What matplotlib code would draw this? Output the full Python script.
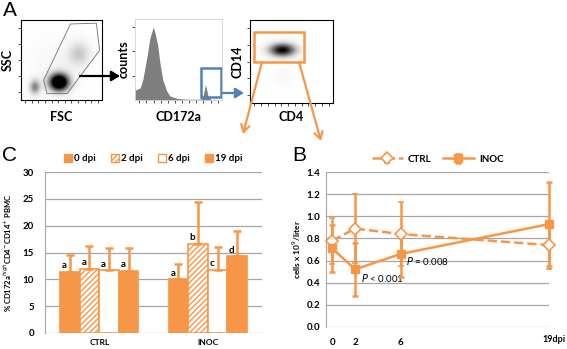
import matplotlib
matplotlib.use('Agg')
import matplotlib.pyplot as plt
import numpy as np
from matplotlib.patches import Polygon, Rectangle, FancyArrowPatch, Patch

W, H = 567, 349
ORANGE = '#F79646'
GRID = '#A6A6A6'
BLUE = '#4F81BD'

# ---- panel C data (% CD172a-high CD4- CD14+ PBMC) ----
groups = ['CTRL', 'INOC']
days_c = ['0 dpi', '2 dpi', '6 dpi', '19 dpi']
ctrl_pct = [11.4, 12.0, 11.7, 11.6]
ctrl_err = [3.1, 4.2, 4.2, 4.2]
inoc_pct = [10.0, 16.6, 11.8, 14.3]
inoc_err = [2.8, 7.8, 4.2, 4.7]
ctrl_letters = ['a', 'a', 'a', 'a']
inoc_letters = ['a', 'b', 'c', 'd']

# ---- panel B data (cells x 10^9/liter) ----
days_b = [0, 2, 6, 19]
day_labels = ['0', '2', '6', '']
ctrl_cells = [0.78, 0.89, 0.84, 0.74]
ctrl_cells_err = [0.21, 0.31, 0.29, 0.22]
inoc_cells = [0.71, 0.52, 0.66, 0.93]
inoc_cells_err = [0.21, 0.24, 0.21, 0.38]

# ---- panel A, schematic flow cytometry ----
# blobs: (x, y, sx, sy, weight) in axes fraction
fsc_ssc_blobs = [(0.47, 0.22, 0.09, 0.08, 1.4), (0.72, 0.58, 0.10, 0.11, 0.30),
                 (0.17, 0.16, 0.05, 0.07, 0.55), (0.45, 0.45, 0.25, 0.22, 0.07)]
cd4_cd14_blobs = [(0.39, 0.64, 0.12, 0.06, 1.0), (0.40, 0.32, 0.08, 0.10, 0.06)]
gate_x = [0.61, 0.93, 0.97, 0.57, 0.32, 0.28]
gate_y = [0.95, 0.96, 0.62, 0.08, 0.08, 0.25]
hist_x = [0.0, 0.06, 0.09, 0.14, 0.17, 0.21, 0.23, 0.26, 0.29, 0.32, 0.36, 0.40,
          0.48, 0.60, 0.75, 0.78, 0.81, 0.84, 0.87, 0.90, 1.0]
hist_y = [0.12, 0.15, 0.25, 0.55, 0.76, 0.90, 0.83, 0.68, 0.43, 0.25, 0.12, 0.05,
          0.02, 0.01, 0.01, 0.04, 0.19, 0.05, 0.01, 0.0, 0.0]

plt.rcParams['font.family'] = ['Lato', 'DejaVu Sans']
fig = plt.figure(figsize=(W / 100, H / 100), dpi=100)


def ax_px(x0, y0, x1, y1):
    return fig.add_axes([x0 / W, 1 - y1 / H, (x1 - x0) / W, (y1 - y0) / H])


def density(ax, blobs):
    gx, gy = np.meshgrid(np.linspace(0, 1, 160), np.linspace(0, 1, 160))
    z = np.zeros_like(gx)
    for cx, cy, sx, sy, w in blobs:
        z += w * np.exp(-((gx - cx) ** 2 / (2 * sx ** 2) + (gy - cy) ** 2 / (2 * sy ** 2)))
    ax.imshow(z, cmap='Greys', origin='lower', extent=(0, 1, 0, 1), vmin=0, vmax=1.0,
              aspect='auto', interpolation='bilinear')


def flow_frame(ax):
    ax.set_xlim(0, 1)
    ax.set_ylim(0, 1)
    ax.set_xticks(np.linspace(0.05, 0.95, 12))
    ax.set_yticks(np.linspace(0.1, 0.9, 5))
    ax.tick_params(length=2, width=0.5, labelbottom=False, labelleft=False)
    for s in ax.spines.values():
        s.set_linewidth(0.8)


# FSC / SSC
a1 = ax_px(21, 20, 102, 100)
density(a1, fsc_ssc_blobs)
a1.add_patch(Polygon(np.column_stack([gate_x, gate_y]), closed=True, fill=False,
                     ec='#707070', lw=0.6))
flow_frame(a1)
a1.set_xlabel('FSC', fontsize=9, fontweight='bold', labelpad=6)
a1.set_ylabel('SSC', fontsize=9, fontweight='bold', labelpad=3)

# CD172a histogram
a2 = ax_px(135, 19, 222, 100)
a2.fill_between(hist_x, hist_y, color='#7F7F7F', lw=0)
a2.set_xlim(0, 1)
a2.set_ylim(0, 1)
a2.set_xticks(np.linspace(0.05, 0.95, 12))
a2.set_yticks([0.3, 0.6, 0.9])
a2.tick_params(length=2, width=0.5, labelbottom=False, labelleft=False)
for s in a2.spines.values():
    s.set_linewidth(0.6)
    s.set_color('#D0D0D0')
a2.set_xlabel('CD172a', fontsize=9, fontweight='bold', labelpad=6)
a2.set_ylabel('counts', fontsize=9, fontweight='bold', labelpad=2)
a2.add_patch(Rectangle((0.76, 0.04), 0.23, 0.36, fill=False, ec=BLUE, lw=1.8,
                       transform=a2.transAxes, clip_on=False))

# CD4 / CD14
a3 = ax_px(250, 20, 333, 103)
density(a3, cd4_cd14_blobs)
flow_frame(a3)
a3.set_xlabel('CD4', fontsize=9, fontweight='bold', labelpad=4)
a3.set_ylabel('CD14', fontsize=9, fontweight='bold', labelpad=3)
a3.add_patch(Rectangle((0.05, 0.5), 0.6, 0.36, fill=False, ec=ORANGE, lw=1.8,
                       transform=a3.transAxes, clip_on=False))

# ---- panel C ----
ac = ax_px(45, 172, 262, 333)
xg = np.arange(len(groups))
bw = 0.18
styles = [dict(color=ORANGE, ec=ORANGE),
          dict(color='white', ec=ORANGE, hatch='//////'),
          dict(color='white', ec=ORANGE),
          dict(color=ORANGE, ec=ORANGE)]
vals = np.array([ctrl_pct, inoc_pct])
errs = np.array([ctrl_err, inoc_err])
letters = [ctrl_letters, inoc_letters]
for j, lab in enumerate(days_c):
    pos = xg + (j - 1.5) * bw
    ac.bar(pos, vals[:, j], bw, lw=1.2, label=lab, zorder=3, **styles[j])
    ac.errorbar(pos, vals[:, j], yerr=[np.zeros(2), errs[:, j]], fmt='none',
                ecolor=ORANGE, elinewidth=1.8, capsize=3, capthick=1.8, zorder=4)
    for g in range(len(groups)):
        ac.text(pos[g] - bw * 0.28, vals[g, j] + 0.3, letters[g][j], ha='center',
                va='bottom', fontsize=7, fontweight='bold', zorder=5)
ac.set_xlim(-0.5, 1.5)
ac.set_ylim(0, 30)
ac.set_yticks(range(0, 31, 5))
ac.set_xticks(xg)
ac.set_xticklabels(groups)
ac.yaxis.grid(True, color=GRID, lw=0.9)
ac.set_axisbelow(True)
for s in ['top', 'right', 'bottom']:
    ac.spines[s].set_visible(False)
ac.spines['left'].set_color(GRID)
ac.tick_params(axis='y', length=0, labelsize=7, pad=8)
ac.tick_params(axis='x', length=0, labelsize=6, pad=4)
for t in ac.get_yticklabels() + ac.get_xticklabels():
    t.set_fontweight('bold')
ac.set_ylabel('% CD172a$^{high}$CD4$^{-}$CD14$^{+}$ PBMC', fontsize=5.5,
              fontweight='bold', labelpad=6)
leg_handles = [Patch(fc=s['color'], ec=s['ec'], hatch=s.get('hatch')) for s in styles]
ac.legend(leg_handles, days_c, ncol=4, loc='lower center', bbox_to_anchor=(0.5, 1.03),
          frameon=False, handlelength=0.8, handleheight=0.8,
          handletextpad=0.2, columnspacing=1.6, borderaxespad=0,
          prop=dict(weight='bold', size=7))

# ---- panel B ----
ab = ax_px(326, 172.3, 549, 326.7)
ab.errorbar(days_b, ctrl_cells, yerr=ctrl_cells_err, color=ORANGE, ls='--', lw=1.8,
            marker='D', ms=6, mfc='white', mec=ORANGE, mew=1.2, elinewidth=1.8,
            capsize=2.5, capthick=1.8, clip_on=False, zorder=4, label='CTRL')
ab.errorbar(days_b, inoc_cells, yerr=inoc_cells_err, color=ORANGE, ls='-', lw=1.8,
            marker='s', ms=6, mfc=ORANGE, mec=ORANGE, elinewidth=1.8,
            capsize=2.5, capthick=1.8, clip_on=False, zorder=4, label='INOC')
ab.set_xlim(-0.55, 19)
ab.set_ylim(0, 1.4)
ab.set_yticks(np.arange(0, 1.41, 0.2))
ab.set_yticklabels(['%.1f' % v for v in np.arange(0, 1.41, 0.2)])
ab.set_xticks(days_b)
ab.set_xticklabels(day_labels)
ab.yaxis.grid(True, color=GRID, lw=0.9)
ab.set_axisbelow(True)
for s in ['top', 'right', 'bottom']:
    ab.spines[s].set_visible(False)
ab.spines['left'].set_color(GRID)
ab.tick_params(axis='y', length=0, labelsize=7, pad=4)
ab.tick_params(axis='x', length=0, labelsize=7, pad=8)
for t in ab.get_yticklabels() + ab.get_xticklabels():
    t.set_fontweight('bold')
ab.set_ylabel('cells x 10$^{9}$/liter', fontsize=6, fontweight='bold', labelpad=3)
ab.text(2.5, 0.50, '$P$ < 0.001', fontsize=7, va='top', ha='left')
ab.text(6.5, 0.65, '$P$ = 0.008', fontsize=7, va='top', ha='left')
ab.legend(ncol=2, loc='lower center', bbox_to_anchor=(0.5, 1.03), frameon=False,
          handlelength=3.2, columnspacing=1.2, handletextpad=0.5, borderaxespad=0,
          prop=dict(weight='bold', size=7))

# ---- overlay: panel letters, last x label and arrows ----
ov = fig.add_axes([0, 0, 1, 1], zorder=10)
ov.set_xlim(0, W)
ov.set_ylim(H, 0)
ov.axis('off')
ov.patch.set_alpha(0)
for lab, x, y in [('A', 3, 1), ('C', 2, 146), ('B', 292, 146)]:
    ov.text(x, y, lab, fontsize=15, va='top', ha='left', family='Liberation Sans')
ov.text(566, 340, '19dpi', fontsize=6.5, fontweight='bold', ha='right', va='center')
arrows = [((80, 76), (120, 76), 'black'), ((222, 93), (244, 93), BLUE),
          ((262, 62), (243, 134), ORANGE), ((299, 62), (321, 141), ORANGE)]
for p0, p1, c in arrows:
    style = '-|>,head_length=5,head_width=3' if c != ORANGE else '->,head_length=5,head_width=3'
    ov.add_patch(FancyArrowPatch(p0, p1, arrowstyle=style, color=c, lw=1.6,
                                 mutation_scale=1, shrinkA=0, shrinkB=0))

fig.savefig('out.png', dpi=100)
